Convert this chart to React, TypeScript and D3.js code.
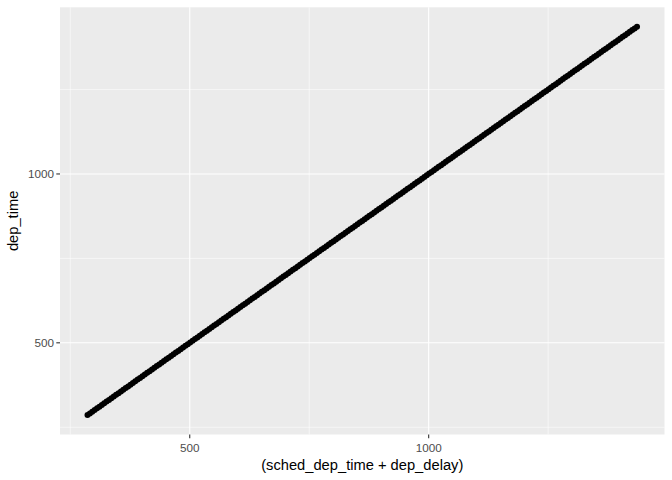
import React from "react";
import * as d3 from "d3";

// x = sched_dep_time + dep_delay, y = dep_time (points fall on the identity line)
const schedPlusDelay: number[] = [
  286, 291, 296, 301, 306, 311, 316, 321, 326, 331, 336, 341, 346, 351, 356, 361, 366, 371, 376, 381,
  386, 391, 396, 401, 406, 411, 416, 421, 426, 431, 436, 441, 446, 451, 456, 461, 466, 471, 476, 481,
  486, 491, 496, 501, 506, 511, 516, 521, 526, 531, 536, 541, 546, 551, 556, 561, 566, 571, 576, 581,
  586, 591, 596, 601, 606, 611, 616, 621, 626, 631, 636, 641, 646, 651, 656, 661, 666, 671, 676, 681,
  686, 691, 696, 701, 706, 711, 716, 721, 726, 731, 736, 741, 746, 751, 756, 761, 766, 771, 776, 781,
  786, 791, 796, 801, 806, 811, 816, 821, 826, 831, 836, 841, 846, 851, 856, 861, 866, 871, 876, 881,
  886, 891, 896, 901, 906, 911, 916, 921, 926, 931, 936, 941, 946, 951, 956, 961, 966, 971, 976, 981,
  986, 991, 996, 1001, 1006, 1011, 1016, 1021, 1026, 1031, 1036, 1041, 1046, 1051, 1056, 1061, 1066, 1071, 1076, 1081,
  1086, 1091, 1096, 1101, 1106, 1111, 1116, 1121, 1126, 1131, 1136, 1141, 1146, 1151, 1156, 1161, 1166, 1171, 1176, 1181,
  1186, 1191, 1196, 1201, 1206, 1211, 1216, 1221, 1226, 1231, 1236, 1241, 1246, 1251, 1256, 1261, 1266, 1271, 1276, 1281,
  1286, 1291, 1296, 1301, 1306, 1311, 1316, 1321, 1326, 1331, 1336, 1341, 1346, 1351, 1356, 1361, 1366, 1371, 1376, 1381,
  1386, 1391, 1396, 1401, 1406, 1411, 1416, 1421, 1426, 1431, 1436,
];
const depTime: number[] = [
  286, 291, 296, 301, 306, 311, 316, 321, 326, 331, 336, 341, 346, 351, 356, 361, 366, 371, 376, 381,
  386, 391, 396, 401, 406, 411, 416, 421, 426, 431, 436, 441, 446, 451, 456, 461, 466, 471, 476, 481,
  486, 491, 496, 501, 506, 511, 516, 521, 526, 531, 536, 541, 546, 551, 556, 561, 566, 571, 576, 581,
  586, 591, 596, 601, 606, 611, 616, 621, 626, 631, 636, 641, 646, 651, 656, 661, 666, 671, 676, 681,
  686, 691, 696, 701, 706, 711, 716, 721, 726, 731, 736, 741, 746, 751, 756, 761, 766, 771, 776, 781,
  786, 791, 796, 801, 806, 811, 816, 821, 826, 831, 836, 841, 846, 851, 856, 861, 866, 871, 876, 881,
  886, 891, 896, 901, 906, 911, 916, 921, 926, 931, 936, 941, 946, 951, 956, 961, 966, 971, 976, 981,
  986, 991, 996, 1001, 1006, 1011, 1016, 1021, 1026, 1031, 1036, 1041, 1046, 1051, 1056, 1061, 1066, 1071, 1076, 1081,
  1086, 1091, 1096, 1101, 1106, 1111, 1116, 1121, 1126, 1131, 1136, 1141, 1146, 1151, 1156, 1161, 1166, 1171, 1176, 1181,
  1186, 1191, 1196, 1201, 1206, 1211, 1216, 1221, 1226, 1231, 1236, 1241, 1246, 1251, 1256, 1261, 1266, 1271, 1276, 1281,
  1286, 1291, 1296, 1301, 1306, 1311, 1316, 1321, 1326, 1331, 1336, 1341, 1346, 1351, 1356, 1361, 1366, 1371, 1376, 1381,
  1386, 1391, 1396, 1401, 1406, 1411, 1416, 1421, 1426, 1431, 1436,
];
const xMajor: number[] = [500, 1000];
const xMinor: number[] = [250, 750, 1250];
const yMajor: number[] = [500, 1000];
const yMinor: number[] = [250, 750, 1250];
const xTitle = "(sched_dep_time + dep_delay)";
const yTitle = "dep_time";

const W = 672;
const H = 480;
const panel = { left: 60, right: 664.5, top: 7.3, bottom: 434.5 };
const font = "'Liberation Sans', Arial, Helvetica, sans-serif";

export default function App() {
  const xExt = d3.extent(schedPlusDelay) as [number, number];
  const yExt = d3.extent(depTime) as [number, number];
  const xPad = (xExt[1] - xExt[0]) * 0.05;
  const yPad = (yExt[1] - yExt[0]) * 0.05;
  const x = d3.scaleLinear().domain([xExt[0] - xPad, xExt[1] + xPad]).range([panel.left, panel.right]);
  const y = d3.scaleLinear().domain([yExt[0] - yPad, yExt[1] + yPad]).range([panel.bottom, panel.top]);
  const pts = schedPlusDelay.map((v, i) => [v, depTime[i]]);
  const cx = (panel.left + panel.right) / 2;
  const cy = (panel.top + panel.bottom) / 2;

  return (
    <svg width={W} height={H} style={{ position: "absolute", left: 0, top: 0, background: "#fff" }} fontFamily={font}>
      <rect x={panel.left} y={panel.top} width={panel.right - panel.left} height={panel.bottom - panel.top} fill="#EBEBEB" />
      {xMinor.map((v) => (
        <line key={"xm" + v} x1={x(v)} x2={x(v)} y1={panel.top} y2={panel.bottom} stroke="#fff" strokeWidth={0.55} />
      ))}
      {yMinor.map((v) => (
        <line key={"ym" + v} y1={y(v)} y2={y(v)} x1={panel.left} x2={panel.right} stroke="#fff" strokeWidth={0.55} />
      ))}
      {xMajor.map((v) => (
        <line key={"xM" + v} x1={x(v)} x2={x(v)} y1={panel.top} y2={panel.bottom} stroke="#fff" strokeWidth={1.1} />
      ))}
      {yMajor.map((v) => (
        <line key={"yM" + v} y1={y(v)} y2={y(v)} x1={panel.left} x2={panel.right} stroke="#fff" strokeWidth={1.1} />
      ))}
      {pts.map(([a, b], i) => (
        <circle key={i} cx={x(a)} cy={y(b)} r={3} fill="#000" />
      ))}
      {xMajor.map((v) => (
        <g key={"xt" + v}>
          <line x1={x(v)} x2={x(v)} y1={panel.bottom} y2={panel.bottom + 3.7} stroke="#333" strokeWidth={1.1} />
          <text x={x(v)} y={panel.bottom + 17.5} textAnchor="middle" fontSize={11.7} fill="#4D4D4D">{v}</text>
        </g>
      ))}
      {yMajor.map((v) => (
        <g key={"yt" + v}>
          <line x1={panel.left - 3.7} x2={panel.left} y1={y(v)} y2={y(v)} stroke="#333" strokeWidth={1.1} />
          <text x={panel.left - 6} y={y(v)} dy="0.35em" textAnchor="end" fontSize={11.7} fill="#4D4D4D">{v}</text>
        </g>
      ))}
      <text x={cx} y={470} textAnchor="middle" fontSize={14.7} fill="#000">{xTitle}</text>
      <text transform={`translate(18,${cy}) rotate(-90)`} textAnchor="middle" fontSize={14.7} fill="#000">{yTitle}</text>
    </svg>
  );
}
